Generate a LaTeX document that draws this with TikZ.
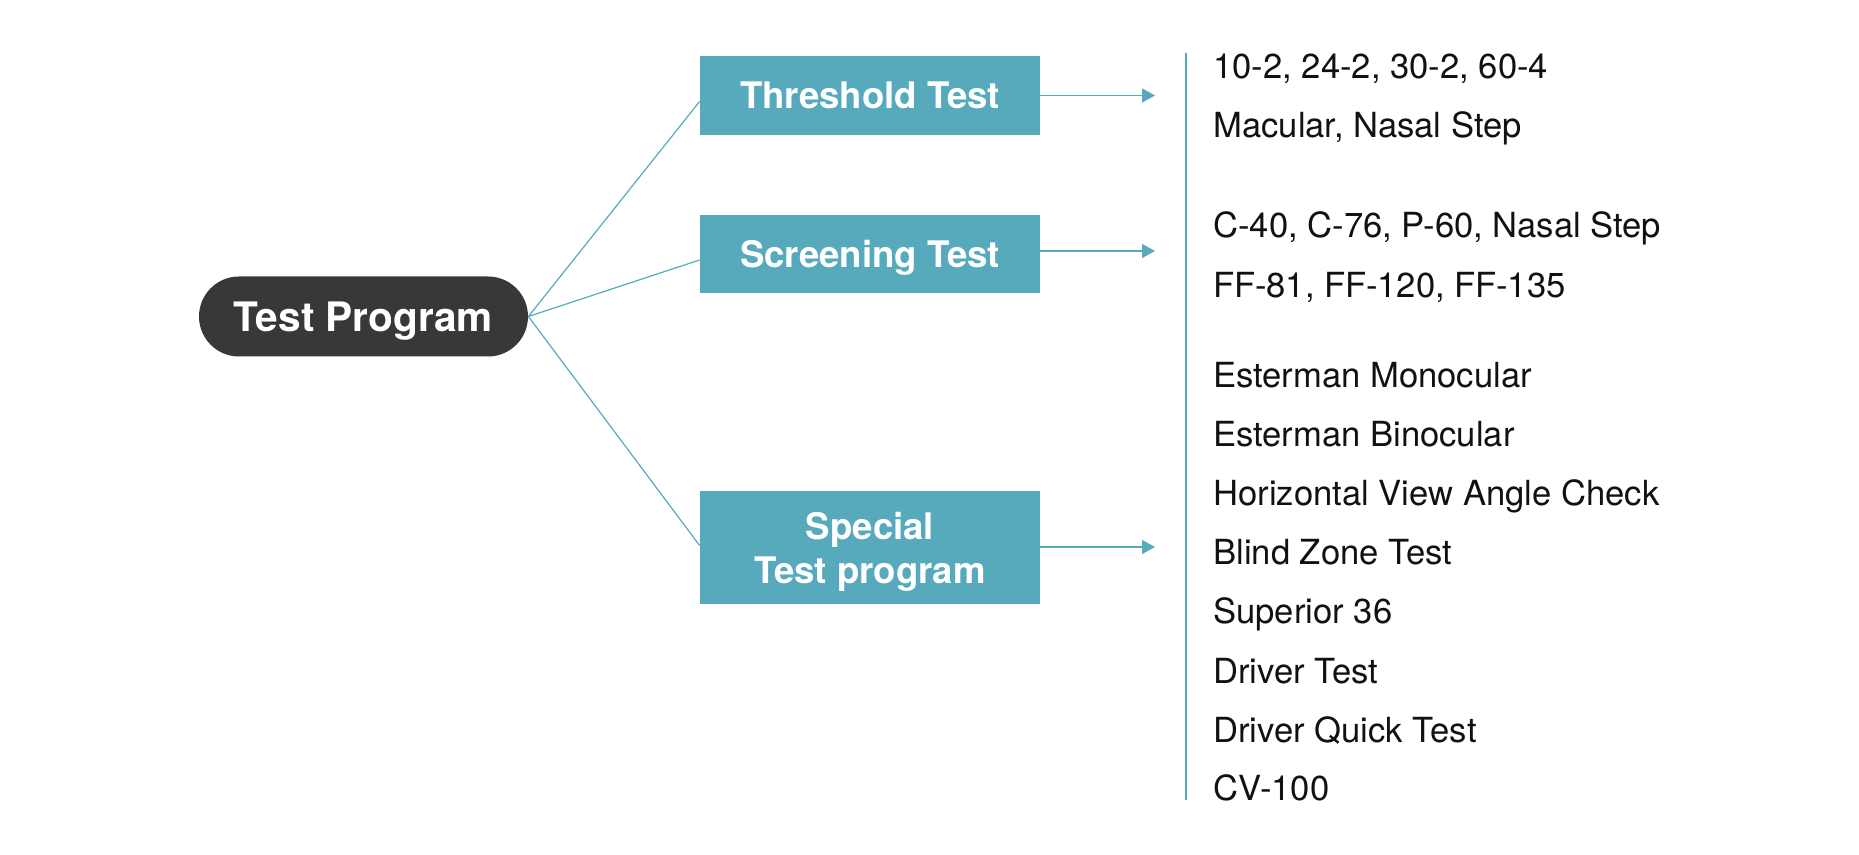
\documentclass[tikz,border=0pt]{standalone}
\usepackage{fontspec}
\setmainfont{TeX Gyre Heros}
\usetikzlibrary{arrows.meta}
\definecolor{teal1}{RGB}{86,170,188}
\definecolor{pilldark}{RGB}{58,56,54}
\definecolor{txt}{RGB}{17,17,17}
\tikzset{
  pill/.style={fill=pilldark, text=white, rounded corners=20pt, minimum width=164.5pt, minimum height=40pt, inner sep=0pt, text height=14.6pt, text depth=0pt, font=\fontsize{20.3}{24}\selectfont\bfseries},
  tbox/.style={fill=teal1, text=white, minimum width=170pt, inner sep=0pt, align=center, text depth=0pt, font=\fontsize{18.3}{22}\selectfont\bfseries},
  conn/.style={draw=teal1, line width=0.6pt},
  arr/.style={draw=teal1, line width=0.7pt, -{Triangle[length=6.5pt,width=7pt]}},
  item/.style={anchor=base west, inner sep=0pt, text=txt, font=\fontsize{17.3}{20}\selectfont}
}
\begin{document}
\begin{tikzpicture}[x=0.5pt,y=-0.5pt]
\useasboundingbox (0,0) rectangle (1859,855);
\node[pill] (tp) at (363.5,316.5) {Test Program};
\node[tbox, minimum height=39.5pt, text height=13.2pt] (thr) at (870,95.5) {Threshold Test};
\node[tbox, minimum height=39pt, text height=13.2pt] (scr) at (870,254) {Screening Test};
\node[tbox, minimum height=56.5pt] (spe) at (870,547.5) {Special\\Test program};
\draw[conn] (tp.east) -- ([yshift=-3pt]thr.west);
\draw[conn] (tp.east) -- ([yshift=-3pt]scr.west);
\draw[conn] (tp.east) -- ([yshift=1pt]spe.west);
\coordinate (a1) at (1155,95.5);
\coordinate (a2) at (1155,251);
\coordinate (a3) at (1155,547);
\draw[arr] (thr.east |- a1) -- (a1);
\draw[arr] (scr.east |- a2) -- (a2);
\draw[arr] (spe.east |- a3) -- (a3);
\coordinate (vtop) at (1186,53);
\coordinate (vbot) at (1186,800);
\draw[draw=teal1, line width=0.8pt] (vtop) -- (vbot);
\node[item] (l1) at (1213,79) {10-2, 24-2, 30-2, 60-4};
\node[item] (l2) at (1213,137.5) {Macular, Nasal Step};
\node[item] (l3) at (1213,238) {C-40, C-76, P-60, Nasal Step};
\node[item] (l4) at (1213,297.5) {FF-81, FF-120, FF-135};
\node[item] (l5) at (1213,388) {Esterman Monocular};
\node[item] (l6) at (1213,447) {Esterman Binocular};
\node[item] (l7) at (1213,506) {Horizontal View Angle Check};
\node[item] (l8) at (1213,565) {Blind Zone Test};
\node[item] (l9) at (1213,624) {Superior 36};
\node[item] (l10) at (1213,683) {Driver Test};
\node[item] (l11) at (1213,742) {Driver Quick Test};
\node[item] (l12) at (1213,800) {CV-100};
\end{tikzpicture}
\end{document}
